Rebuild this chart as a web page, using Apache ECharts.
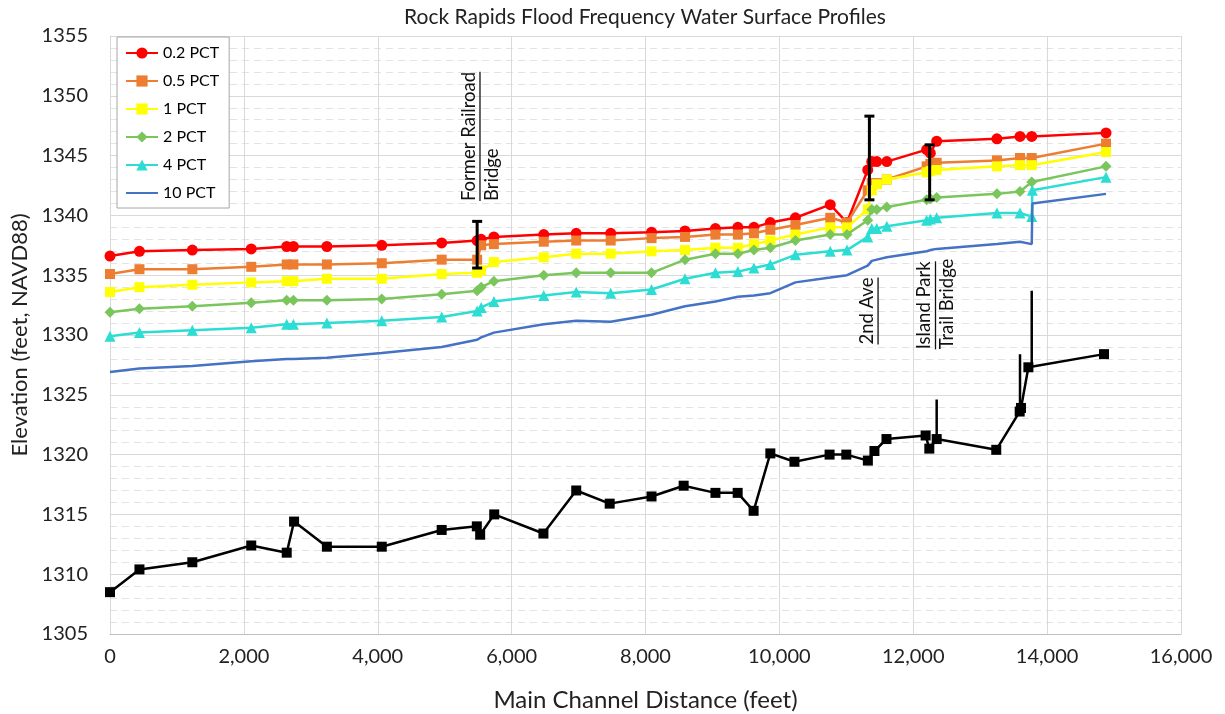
<!DOCTYPE html>
<html>
<head>
<meta charset="utf-8">
<title>Rock Rapids Flood Frequency Water Surface Profiles</title>
<script src="https://cdn.jsdelivr.net/npm/echarts@6/dist/echarts.min.js"></script>
<style>
  html, body { margin: 0; padding: 0; background: #fff; }
  #chart { width: 1225px; height: 714px; }
</style>
</head>
<body>
<div id="chart"></div>
<script>
// station (feet) shared by the profile runs
var stations = [0, 440, 1230, 2110, 2640, 2740, 3240, 4060, 4955, 5485, 5545, 5735, 6480, 6965, 7480, 8090, 8590, 9045,
  9380, 9620, 9865, 10240, 10760, 11010, 11320, 11380, 11455, 11605, 12200, 12255, 12350, 13250, 13595, 13770, 13780, 14880];

// water surface elevations per flood frequency
var pct02 = [1336.6, 1337.0, 1337.1, 1337.2, 1337.4, 1337.4, 1337.4, 1337.5, 1337.7, 1337.9, 1338.0, 1338.2, 1338.4, 1338.5, 1338.5, 1338.6, 1338.7, 1338.9,
  1339.0, 1339.0, 1339.4, 1339.8, 1340.9, 1339.4, 1343.8, 1344.5, 1344.5, 1344.5, 1345.5, 1345.2, 1346.2, 1346.4, 1346.6, 1346.6, null, 1346.9];
var pct05 = [1335.1, 1335.5, 1335.5, 1335.7, 1335.9, 1335.9, 1335.9, 1336.0, 1336.3, 1336.3, 1337.5, 1337.6, 1337.8, 1337.9, 1337.9, 1338.1, 1338.2, 1338.4,
  1338.4, 1338.5, 1338.8, 1339.2, 1339.8, 1339.4, 1342.1, 1342.7, 1342.7, 1343.0, 1344.1, 1344.3, 1344.4, 1344.6, 1344.8, 1344.8, null, 1346.0];
var pct1 = [1333.6, 1334.0, 1334.2, 1334.4, 1334.5, 1334.5, 1334.7, 1334.7, 1335.1, 1335.2, 1335.4, 1336.1, 1336.5, 1336.8, 1336.8, 1337.0, 1337.1, 1337.3,
  1337.3, 1337.6, 1337.9, 1338.4, 1339.0, 1339.0, 1340.5, 1342.1, 1342.6, 1343.0, 1343.6, 1343.7, 1343.8, 1344.1, 1344.2, 1344.2, null, 1345.3];
var pct2 = [1331.9, 1332.2, 1332.4, 1332.7, 1332.9, 1332.9, 1332.9, 1333.0, 1333.4, 1333.7, 1334.0, 1334.5, 1335.0, 1335.2, 1335.2, 1335.2, 1336.3, 1336.8,
  1336.8, 1337.1, 1337.3, 1337.9, 1338.4, 1338.4, 1339.6, 1340.5, 1340.5, 1340.7, 1341.3, 1341.4, 1341.5, 1341.8, 1342.0, 1342.8, null, 1344.1];
var pct4 = [1329.9, 1330.2, 1330.4, 1330.6, 1330.9, 1330.9, 1331.0, 1331.2, 1331.5, 1332.0, 1332.3, 1332.8, 1333.3, 1333.6, 1333.5, 1333.8, 1334.7, 1335.2,
  1335.3, 1335.6, 1335.9, 1336.7, 1337.0, 1337.1, 1338.2, 1338.9, 1338.9, 1339.1, 1339.6, 1339.7, 1339.8, 1340.2, 1340.2, 1339.9, 1342.1, 1343.2];
var pct10 = [1326.9, 1327.2, 1327.4, 1327.8, 1328.0, 1328.0, 1328.1, 1328.5, 1329.0, 1329.6, 1329.8, 1330.2, 1330.9, 1331.2, 1331.1, 1331.7, 1332.4, 1332.8,
  1333.2, 1333.3, 1333.5, 1334.4, 1334.8, 1335.0, 1335.8, 1336.2, 1336.3, 1336.5, 1337.0, 1337.1, 1337.2, 1337.6, 1337.8, 1337.6, 1341.0, 1341.8];

// channel bed (thalweg)
var bedStations = [0, 440, 1230, 2110, 2640, 2750, 3240, 4060, 4955, 5480, 5530, 5740, 6475, 6965, 7465, 8090, 8570, 9045,
  9377, 9615, 9865, 10225, 10750, 11000, 11322, 11420, 11600, 12185, 12240, 12350, 13240, 13590, 13610, 13720, 14850];
var bedElev = [1308.5, 1310.4, 1311.0, 1312.4, 1311.8, 1314.4, 1312.3, 1312.3, 1313.7, 1314.0, 1313.3, 1315.0, 1313.4, 1317.0, 1315.9, 1316.5, 1317.4, 1316.8,
  1316.8, 1315.3, 1320.1, 1319.4, 1320.0, 1320.0, 1319.5, 1320.3, 1321.3, 1321.6, 1320.5, 1321.3, 1320.4, 1323.6, 1323.9, 1327.3, 1328.4];

// bridge openings [station, low chord, deck top] and plain vertical marks
var bridgeBars = [[5485, 1335.6, 1339.5], [11345, 1341.3, 1348.3], [12245, 1341.3, 1345.9]];
var pierLines = [[12350, 1321.3, 1324.6], [13595, 1323.6, 1328.4], [13770, 1327.3, 1333.7]];

var seriesNames = ['0.2 PCT', '0.5 PCT', '1 PCT', '2 PCT', '4 PCT', '10 PCT'];
var xTicks = [0, 2000, 4000, 6000, 8000, 10000, 12000, 14000, 16000];
var yTicks = [1305, 1310, 1315, 1320, 1325, 1330, 1335, 1340, 1345, 1350, 1355];

var FONT = 'Lato';

function pairs(xs, ys) {
  return xs.map(function (x, i) { return [x, ys[i]]; })
    .filter(function (p) { return p[1] != null; });
}

var myChart = echarts.init(document.getElementById('chart'));

var profiles = [
  { data: pct02, color: '#ff0000', symbol: 'circle', size: 11 },
  { data: pct05, color: '#ed7d31', symbol: 'rect', size: 10 },
  { data: pct1, color: '#ffff00', symbol: 'rect', size: 10 },
  { data: pct2, color: '#7ac65c', symbol: 'diamond', size: 11 },
  { data: pct4, color: '#2bddd3', symbol: 'triangle', size: 11 },
  { data: pct10, color: '#4472c4', symbol: 'none', size: 0 }
];

var series = profiles.map(function (p, i) {
  return {
    name: seriesNames[i],
    type: 'line',
    data: pairs(stations, p.data),
    symbol: p.symbol,
    symbolSize: p.size,
    showAllSymbol: true,
    lineStyle: { color: p.color, width: 2.5 },
    itemStyle: { color: p.color },
    z: 2 + i
  };
});

series.push({
  name: 'Channel Bed',
  type: 'line',
  data: pairs(bedStations, bedElev),
  symbol: 'rect',
  symbolSize: 10,
  showAllSymbol: true,
  lineStyle: { color: '#000', width: 2.5 },
  itemStyle: { color: '#000' },
  z: 10
});

bridgeBars.forEach(function (b) {
  series.push({
    type: 'line',
    data: [[b[0], b[1]], [b[0], b[2]]],
    symbol: 'rect',
    symbolSize: [10, 3],
    lineStyle: { color: '#000', width: 3 },
    itemStyle: { color: '#000' },
    z: 12
  });
});
pierLines.forEach(function (b) {
  series.push({
    type: 'line',
    data: [[b[0], b[1]], [b[0], b[2]]],
    symbol: 'none',
    lineStyle: { color: '#000', width: 2.5 },
    z: 11
  });
});

// legend entries; the 10 PCT run has no marker, only its line
var legendData = seriesNames.map(function (n, i) {
  return profiles[i].symbol === 'none' ? { name: n, itemStyle: { opacity: 0 } } : { name: n };
});

var option = {
  animation: false,
  backgroundColor: '#fff',
  title: {
    text: 'Rock Rapids Flood Frequency Water Surface Profiles',
    left: 640,
    top: 2,
    textAlign: 'center',
    textStyle: { fontFamily: FONT, fontSize: 21, fontWeight: 'normal', color: '#222' }
  },
  legend: {
    data: legendData,
    orient: 'vertical',
    left: 117,
    top: 37,
    itemWidth: 32,
    itemHeight: 14,
    itemGap: 12,
    padding: [8, 10, 7, 8],
    backgroundColor: '#fff',
    borderColor: '#a6a6a6',
    borderWidth: 1,
    textStyle: { fontFamily: FONT, fontSize: 16, color: '#000' }
  },
  grid: { left: 110, right: 44, top: 36, bottom: 80, containLabel: false, outerBoundsMode: 'none' },
  xAxis: {
    type: 'value',
    min: xTicks[0],
    max: xTicks[xTicks.length - 1],
    interval: xTicks[1] - xTicks[0],
    name: 'Main Channel Distance (feet)',
    nameLocation: 'middle',
    nameGap: 54,
    nameTextStyle: { fontFamily: FONT, fontSize: 24, color: '#222' },
    axisLine: { lineStyle: { color: '#bfbfbf', width: 1 } },
    axisTick: { show: false },
    axisLabel: {
      margin: 13,
      fontFamily: FONT, fontSize: 20, color: '#222',
      formatter: function (v) { return v.toLocaleString('en-US'); }
    },
    splitLine: { show: true, lineStyle: { color: '#d9d9d9', width: 1 } }
  },
  yAxis: {
    type: 'value',
    min: yTicks[0],
    max: yTicks[yTicks.length - 1],
    interval: yTicks[1] - yTicks[0],
    name: 'Elevation (feet, NAVD88)',
    nameLocation: 'middle',
    nameGap: 77,
    nameTextStyle: { fontFamily: FONT, fontSize: 22, color: '#222' },
    axisLine: { show: true, lineStyle: { color: '#d9d9d9', width: 1 } },
    axisTick: { show: false },
    axisLabel: {
      margin: 22, fontFamily: FONT, fontSize: 20, color: '#222',
      formatter: function (v) { return String(v); }
    },
    splitLine: { show: true, lineStyle: { color: '#d9d9d9', width: 1 } },
    minorTick: { show: false, splitNumber: 5 },
    minorSplitLine: { show: true, lineStyle: { color: '#e3e3e3', width: 1, type: [7, 5] } }
  },
  series: series
};

myChart.setOption(option);

// rotated bridge labels, anchored at data coordinates (bottom of text)
var notes = [
  { lines: ['Former Railroad', 'Bridge'], at: [5363, 1341.2] },
  { lines: ['2nd Ave'], at: [11310, 1329.2] },
  { lines: ['Island Park', 'Trail Bridge'], at: [12168, 1328.8] }
];
var noteFont = '18.5px ' + FONT;
var measure = document.createElement('canvas').getContext('2d');
measure.font = noteFont;

var graphics = [];
notes.forEach(function (n) {
  var p = myChart.convertToPixel({ gridIndex: 0 }, n.at);
  n.lines.forEach(function (t, i) {
    graphics.push({
      type: 'text',
      x: p[0] + i * 23,
      y: p[1],
      rotation: Math.PI / 2,
      style: { text: t, font: noteFont, fill: '#111', align: 'left', verticalAlign: 'middle' },
      z: 20
    });
  });
  var w = measure.measureText(n.lines[0]).width;
  graphics.push({
    type: 'line',
    shape: { x1: p[0] + 11, y1: p[1], x2: p[0] + 11, y2: p[1] - w },
    style: { stroke: '#111', lineWidth: 1.3 },
    z: 20
  });
});
myChart.setOption({ graphic: graphics });
</script>
</body>
</html>
